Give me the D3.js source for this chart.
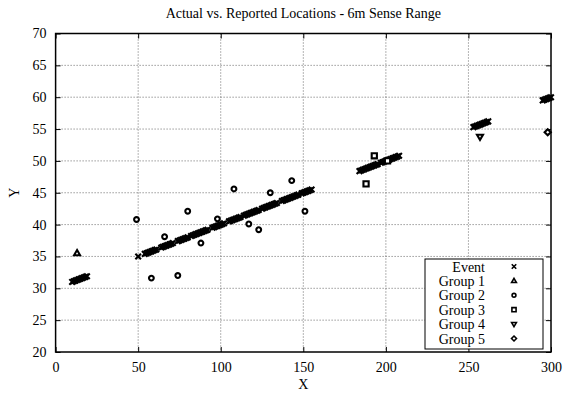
<!DOCTYPE html>
<html>
<head>
<meta charset="utf-8">
<script src="https://cdn.jsdelivr.net/npm/d3@7"></script>
<style>
  body { margin: 0; background: #fff; }
  text { font-family: "Liberation Serif", "DejaVu Serif", serif; fill: #000; }
</style>
</head>
<body>
<div id="chart"></div>
<script>
// ---- data ----
var xTicks = [0, 50, 100, 150, 200, 250, 300];
var yTicks = [20, 25, 30, 35, 40, 45, 50, 55, 60, 65, 70];

// Event locations (actual), x and y listed per point
var eventX = [
  10, 11, 12, 13, 14, 15, 16, 17, 18, 19,
  50,
  54, 55, 56, 57, 58, 59, 60, 61,
  64, 65, 66, 67, 68, 69, 70, 71,
  74, 75, 76, 77, 78, 79, 80,
  82, 83, 84, 85, 86, 87, 88, 89, 90, 91, 92,
  95, 96, 97, 98, 99, 100, 101, 102,
  105, 106, 107, 108, 109, 110, 111, 112,
  114, 115, 116, 117, 118, 119, 120, 121, 122, 123,
  125, 126, 127, 128, 129, 130, 131, 132, 133, 134,
  137, 138, 139, 140, 141, 142, 143, 144, 145, 146, 147,
  149, 150, 151, 152, 153, 154, 155,
  184, 185, 186, 187, 188, 189, 190, 191, 192, 193, 194, 195,
  197, 198, 199, 200, 201, 202, 203, 204, 205, 206, 207, 208,
  253, 254, 255, 256, 257, 258, 259, 260, 261, 262,
  295, 296, 297, 298, 299, 300
];
var eventY = [
  31.0, 31.1, 31.2, 31.3, 31.4, 31.5, 31.6, 31.7, 31.8, 31.9,
  35.0,
  35.4, 35.5, 35.6, 35.7, 35.8, 35.9, 36.0, 36.1,
  36.4, 36.5, 36.6, 36.7, 36.8, 36.9, 37.0, 37.1,
  37.4, 37.5, 37.6, 37.7, 37.8, 37.9, 38.0,
  38.2, 38.3, 38.4, 38.5, 38.6, 38.7, 38.8, 38.9, 39.0, 39.1, 39.2,
  39.5, 39.6, 39.7, 39.8, 39.9, 40.0, 40.1, 40.2,
  40.5, 40.6, 40.7, 40.8, 40.9, 41.0, 41.1, 41.2,
  41.4, 41.5, 41.6, 41.7, 41.8, 41.9, 42.0, 42.1, 42.2, 42.3,
  42.5, 42.6, 42.7, 42.8, 42.9, 43.0, 43.1, 43.2, 43.3, 43.4,
  43.7, 43.8, 43.9, 44.0, 44.1, 44.2, 44.3, 44.4, 44.5, 44.6, 44.7,
  44.9, 45.0, 45.1, 45.2, 45.3, 45.4, 45.5,
  48.4, 48.5, 48.6, 48.7, 48.8, 48.9, 49.0, 49.1, 49.2, 49.3, 49.4, 49.5,
  49.7, 49.8, 49.9, 50.0, 50.1, 50.2, 50.3, 50.4, 50.5, 50.6, 50.7, 50.8,
  55.3, 55.4, 55.5, 55.6, 55.7, 55.8, 55.9, 56.0, 56.1, 56.2,
  59.5, 59.6, 59.7, 59.8, 59.9, 60.0
];

// Reported locations per group
var group1 = [[13, 35.5]];
var group2 = [[49, 40.8], [58, 31.6], [66, 38.1], [74, 32.0], [80, 42.1], [88, 37.1],
              [98, 40.9], [108, 45.6], [117, 40.1], [123, 39.2], [130, 45.0], [143, 46.9], [151, 42.1]];
var group3 = [[188, 46.4], [193, 50.8], [201, 50.0]];
var group4 = [[257, 53.8]];
var group5 = [[298, 54.5]];

var seriesNames = ['Event', 'Group 1', 'Group 2', 'Group 3', 'Group 4', 'Group 5'];
var seriesShapes = ['times', 'triUp', 'circle', 'square', 'triDown', 'diamond'];

// ---- layout ----
var svgWidth = 563;
var svgHeight = 399;
var margin = { top: 33.5, right: 12, bottom: 47, left: 55.6 };
var width = svgWidth - margin.left - margin.right;
var height = svgHeight - margin.top - margin.bottom;

var svg = d3.select('#chart').append('svg')
  .attr('width', svgWidth)
  .attr('height', svgHeight);

var g = svg.append('g')
  .attr('transform', `translate(${margin.left}, ${margin.top})`);

var xScale = d3.scaleLinear().domain([0, 300]).range([0, width]);
var yScale = d3.scaleLinear().domain([20, 70]).range([height, 0]);

// dotted grid
g.append('g').selectAll('line')
  .data(xTicks.slice(1, -1))
  .enter().append('line')
  .attr('x1', d => xScale(d)).attr('x2', d => xScale(d))
  .attr('y1', 0).attr('y2', height)
  .attr('stroke', '#444').attr('stroke-width', 0.8)
  .attr('stroke-dasharray', '1,2');

g.append('g').selectAll('line')
  .data(yTicks.slice(1, -1))
  .enter().append('line')
  .attr('x1', 0).attr('x2', width)
  .attr('y1', d => yScale(d)).attr('y2', d => yScale(d))
  .attr('stroke', '#444').attr('stroke-width', 0.8)
  .attr('stroke-dasharray', '1,2');

// axes: ticks drawn inward, mirrored on top/right
var xAxis = d3.axisBottom(xScale).tickValues(xTicks).tickSizeInner(-5).tickSizeOuter(0).tickPadding(10);
var yAxis = d3.axisLeft(yScale).tickValues(yTicks).tickSizeInner(-5).tickSizeOuter(0).tickPadding(9);
var xTop = d3.axisTop(xScale).tickValues(xTicks).tickSizeInner(-5).tickSizeOuter(0).tickFormat('');
var yRight = d3.axisRight(yScale).tickValues(yTicks).tickSizeInner(-5).tickSizeOuter(0).tickFormat('');

function styleAxis(sel) {
  sel.select('.domain').remove();
  sel.selectAll('line').attr('stroke', '#000').attr('stroke-width', 1);
  sel.selectAll('text')
    .style('font-family', '"Liberation Serif", serif')
    .style('font-size', '14px')
    .attr('fill', '#000');
}

g.append('g').attr('transform', `translate(0, ${height})`).call(xAxis).call(styleAxis);
g.append('g').call(yAxis).call(styleAxis);
g.append('g').call(xTop).call(styleAxis);
g.append('g').attr('transform', `translate(${width}, 0)`).call(yRight).call(styleAxis);

// frame
g.append('rect')
  .attr('width', width).attr('height', height)
  .attr('fill', 'none').attr('stroke', '#000').attr('stroke-width', 1.5);

// marker shapes
function markerPath(shape) {
  switch (shape) {
    case 'times': return 'M-2.8,-2.8L2.8,2.8M-2.8,2.8L2.8,-2.8';
    case 'triUp': return 'M0,-3.2L3,2L-3,2Z';
    case 'triDown': return 'M0,3.2L3,-2L-3,-2Z';
    case 'circle': return 'M2.4,0A2.4,2.4 0 1,1 -2.4,0A2.4,2.4 0 1,1 2.4,0Z';
    case 'square': return 'M-2.6,-2.6H2.6V2.6H-2.6Z';
    case 'diamond': return 'M0,-3.1L3.1,0L0,3.1L-3.1,0Z';
  }
}

function drawMarker(sel, shape) {
  sel.attr('d', markerPath(shape))
    .attr('fill', shape === 'times' ? 'none' : '#fff')
    .attr('stroke', '#000')
    .attr('stroke-width', shape === 'times' ? 2.1 : 2.1);
}

var plot = g.append('g');

// events
plot.selectAll('.event')
  .data(eventX.map((x, i) => [x, eventY[i]]))
  .enter().append('path')
  .attr('class', 'event')
  .attr('transform', d => `translate(${xScale(d[0])}, ${yScale(d[1])})`)
  .call(drawMarker, 'times');

// groups
var groups = [group1, group2, group3, group4, group5];
groups.forEach(function(pts, i) {
  plot.selectAll('.grp' + i)
    .data(pts)
    .enter().append('path')
    .attr('class', 'grp' + i)
    .attr('transform', d => `translate(${xScale(d[0])}, ${yScale(d[1])})`)
    .call(drawMarker, seriesShapes[i + 1]);
});

// legend
var legend = svg.append('g').attr('transform', 'translate(425, 259)');
legend.append('rect')
  .attr('width', 118).attr('height', 90)
  .attr('fill', '#fff').attr('stroke', '#000').attr('stroke-width', 1);

var rows = legend.selectAll('.row')
  .data(seriesNames)
  .enter().append('g')
  .attr('transform', (d, i) => `translate(0, ${7.5 + i * 14.4})`);

rows.append('text')
  .attr('x', 60).attr('y', 5)
  .attr('text-anchor', 'end')
  .style('font-size', '14px')
  .text(d => d);

rows.append('path')
  .each(function(d, i) {
    d3.select(this).call(drawMarker, seriesShapes[i])
      .attr('transform', 'translate(89, 0) scale(0.8)')
      .attr('stroke-width', 2);
  });

// title and axis labels
svg.append('text')
  .attr('x', margin.left + width / 2).attr('y', 18)
  .attr('text-anchor', 'middle')
  .style('font-size', '14px')
  .text('Actual vs. Reported Locations - 6m Sense Range');

svg.append('text')
  .attr('x', margin.left + width / 2).attr('y', 389)
  .attr('text-anchor', 'middle')
  .style('font-size', '14px')
  .text('X');

svg.append('text')
  .attr('transform', `translate(19, ${margin.top + height / 2}) rotate(-90)`)
  .attr('text-anchor', 'middle')
  .style('font-size', '14px')
  .text('Y');
</script>
</body>
</html>
